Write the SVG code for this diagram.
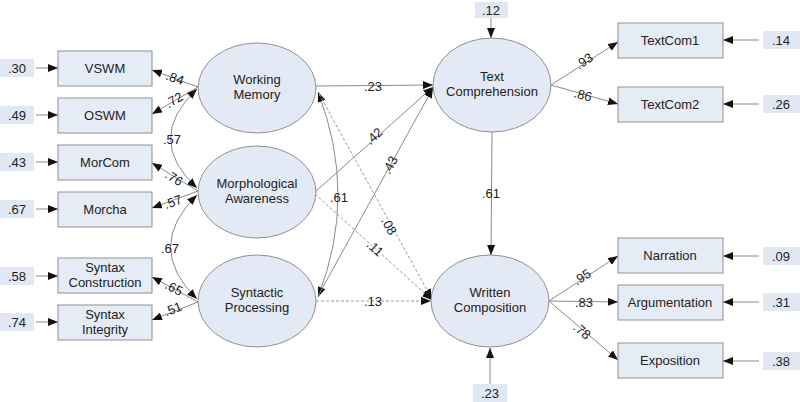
<svg xmlns="http://www.w3.org/2000/svg" width="800" height="402" viewBox="0 0 800 402">
<defs>
<marker id="arr" markerUnits="userSpaceOnUse" markerWidth="11" markerHeight="8" refX="10" refY="4" orient="auto-start-reverse"><path d="M0,0 L10,4 L0,8 z" fill="#111"/></marker>
<style>
.box{fill:#e6ecf6;stroke:#8f8f8f;stroke-width:1}
.lat{fill:#e4eaf5;stroke:#8f8f8f;stroke-width:1}
.err{fill:#e1e8f4;stroke:none}
.t{font-family:"Liberation Sans",Arial,sans-serif;font-size:13px;fill:#222;text-anchor:middle}
.c{fill:none;stroke:#8a8a8a;stroke-width:1}
.d{fill:none;stroke:#9a9a9a;stroke-width:1;stroke-dasharray:3,2}
</style>
</defs>
<rect width="800" height="402" fill="#fff"/>

<g id="connectors">
<!-- error arrows left -->
<path class="c" d="M36,68 L58,68" marker-end="url(#arr)"/>
<path class="c" d="M36,115 L58,115" marker-end="url(#arr)"/>
<path class="c" d="M36,162 L58,162" marker-end="url(#arr)"/>
<path class="c" d="M36,209 L58,209" marker-end="url(#arr)"/>
<path class="c" d="M36,276 L58,276" marker-end="url(#arr)"/>
<path class="c" d="M36,322 L58,322" marker-end="url(#arr)"/>
<!-- loadings left -->
<path class="c" d="M198,87 L152,70" marker-end="url(#arr)"/>
<path class="c" d="M198,87 L152,114" marker-end="url(#arr)"/>
<path class="c" d="M198,191 L152,163" marker-end="url(#arr)"/>
<path class="c" d="M198,191 L152,208" marker-end="url(#arr)"/>
<path class="c" d="M198,302 L152,277" marker-end="url(#arr)"/>
<path class="c" d="M198,302 L152,320" marker-end="url(#arr)"/>
<!-- covariances -->
<path class="c" d="M197,89 Q144,139 197,188" marker-start="url(#arr)" marker-end="url(#arr)"/>
<path class="c" d="M197,195 Q144,247 197,299" marker-start="url(#arr)" marker-end="url(#arr)"/>
<path class="c" d="M318,92 Q358,195 318,297" marker-start="url(#arr)" marker-end="url(#arr)"/>
<!-- structural -->
<path class="c" d="M316,86 L433,85" marker-end="url(#arr)"/>
<path class="c" d="M315,192 L433,87" marker-end="url(#arr)"/>
<path class="c" d="M318,296 L433,88" marker-end="url(#arr)"/>
<path class="d" d="M319,94 L432,299" marker-end="url(#arr)"/>
<path class="d" d="M315,194 L432,300" marker-end="url(#arr)"/>
<path class="d" d="M316,301 L431,301" marker-end="url(#arr)"/>
<path class="c" d="M492,132 L491,255" marker-end="url(#arr)"/>
<!-- latent errors -->
<path class="c" d="M491,18 L491,38" marker-end="url(#arr)"/>
<path class="c" d="M490,384 L490,348" marker-end="url(#arr)"/>
<!-- loadings right -->
<path class="c" d="M551,85 L618,42" marker-end="url(#arr)"/>
<path class="c" d="M551,85 L618,104" marker-end="url(#arr)"/>
<path class="c" d="M549,301 L618,256" marker-end="url(#arr)"/>
<path class="c" d="M549,301 L618,302" marker-end="url(#arr)"/>
<path class="c" d="M549,301 L618,360" marker-end="url(#arr)"/>
<!-- error arrows right -->
<path class="c" d="M759,40 L723,40" marker-end="url(#arr)"/>
<path class="c" d="M759,104 L723,104" marker-end="url(#arr)"/>
<path class="c" d="M759,256 L723,256" marker-end="url(#arr)"/>
<path class="c" d="M759,302 L723,302" marker-end="url(#arr)"/>
<path class="c" d="M759,361 L723,361" marker-end="url(#arr)"/>
<!-- labels -->
<g class="t">
<text transform="translate(175,78) rotate(20)" y="4.5">.84</text>
<text transform="translate(174,100) rotate(-30)" y="4.5">.72</text>
<text x="172" y="143.5">.57</text>
<text transform="translate(174,178) rotate(32)" y="4.5">.76</text>
<text transform="translate(173,202) rotate(-20)" y="4.5">.57</text>
<text x="170" y="252.5">.67</text>
<text transform="translate(174,288) rotate(28)" y="4.5">.65</text>
<text transform="translate(173,309) rotate(-22)" y="4.5">.51</text>
<text x="373" y="90.5">.23</text>
<text transform="translate(374,136) rotate(-42)" y="4.5">.42</text>
<text transform="translate(390,165) rotate(-61)" y="4.5">.43</text>
<text x="339" y="201.5">.61</text>
<text transform="translate(389,226) rotate(61)" y="4.5">.08</text>
<text transform="translate(375,248) rotate(43)" y="4.5">.11</text>
<text x="373" y="305.5">.13</text>
<text x="491" y="197.5">.61</text>
<text transform="translate(584,61) rotate(-33)" y="4.5">.93</text>
<text transform="translate(583,95) rotate(15)" y="4.5">.86</text>
<text transform="translate(582,277) rotate(-33)" y="4.5">.95</text>
<text x="584" y="306.5">.83</text>
<text transform="translate(582,331) rotate(40)" y="4.5">.78</text>
</g>
</g>

<g id="e_vswm"><rect class="err" x="0" y="59" width="34" height="18"/><text class="t" x="17" y="73">.30</text></g>
<g id="e_oswm"><rect class="err" x="0" y="106" width="34" height="18"/><text class="t" x="17" y="120">.49</text></g>
<g id="e_morcom"><rect class="err" x="0" y="153" width="34" height="18"/><text class="t" x="17" y="167">.43</text></g>
<g id="e_morcha"><rect class="err" x="0" y="200" width="34" height="18"/><text class="t" x="17" y="214">.67</text></g>
<g id="e_syncon"><rect class="err" x="0" y="267" width="34" height="18"/><text class="t" x="17" y="281">.58</text></g>
<g id="e_synint"><rect class="err" x="0" y="313" width="34" height="18"/><text class="t" x="17" y="327">.74</text></g>

<g id="vswm"><rect class="box" x="58" y="51" width="94" height="35"/><text class="t" x="105" y="73">VSWM</text></g>
<g id="oswm"><rect class="box" x="58" y="98" width="94" height="35"/><text class="t" x="105" y="120">OSWM</text></g>
<g id="morcom"><rect class="box" x="58" y="145" width="94" height="35"/><text class="t" x="105" y="167">MorCom</text></g>
<g id="morcha"><rect class="box" x="58" y="192" width="94" height="35"/><text class="t" x="105" y="214">Morcha</text></g>
<g id="syncon"><rect class="box" x="58" y="258" width="94" height="35"/><text class="t" x="105" y="272">Syntax</text><text class="t" x="105" y="287">Construction</text></g>
<g id="synint"><rect class="box" x="58" y="305" width="94" height="35"/><text class="t" x="105" y="319">Syntax</text><text class="t" x="105" y="334">Integrity</text></g>

<g id="wm"><ellipse class="lat" cx="257" cy="88" rx="59" ry="45"/><text class="t" x="257" y="84">Working</text><text class="t" x="257" y="99">Memory</text></g>
<g id="ma"><ellipse class="lat" cx="257" cy="192" rx="59" ry="46"/><text class="t" x="257" y="188">Morphological</text><text class="t" x="257" y="203">Awareness</text></g>
<g id="sp"><ellipse class="lat" cx="257" cy="301" rx="59" ry="46"/><text class="t" x="257" y="297">Syntactic</text><text class="t" x="257" y="312">Processing</text></g>

<g id="tc"><ellipse class="lat" cx="492" cy="85" rx="59" ry="47"/><text class="t" x="492" y="81">Text</text><text class="t" x="492" y="96">Comprehension</text></g>
<g id="wc"><ellipse class="lat" cx="490" cy="301" rx="59" ry="46"/><text class="t" x="490" y="297">Written</text><text class="t" x="490" y="312">Composition</text></g>
<g id="e_tc"><rect class="err" x="475" y="2" width="33" height="16"/><text class="t" x="491" y="15">.12</text></g>
<g id="e_wc"><rect class="err" x="473" y="384" width="34" height="18"/><text class="t" x="490" y="398">.23</text></g>

<g id="textcom1"><rect class="box" x="618" y="23" width="105" height="35"/><text class="t" x="670" y="45">TextCom1</text></g>
<g id="textcom2"><rect class="box" x="618" y="87" width="105" height="35"/><text class="t" x="670" y="109">TextCom2</text></g>
<g id="narration"><rect class="box" x="618" y="238" width="105" height="35"/><text class="t" x="670" y="260">Narration</text></g>
<g id="argumentation"><rect class="box" x="618" y="285" width="105" height="35"/><text class="t" x="670" y="307">Argumentation</text></g>
<g id="exposition"><rect class="box" x="618" y="343" width="105" height="35"/><text class="t" x="670" y="365">Exposition</text></g>

<g id="e_tc1"><rect class="err" x="763" y="31" width="37" height="18"/><text class="t" x="781" y="45">.14</text></g>
<g id="e_tc2"><rect class="err" x="763" y="95" width="37" height="18"/><text class="t" x="781" y="109">.26</text></g>
<g id="e_nar"><rect class="err" x="763" y="247" width="37" height="18"/><text class="t" x="781" y="261">.09</text></g>
<g id="e_arg"><rect class="err" x="763" y="293" width="37" height="18"/><text class="t" x="781" y="307">.31</text></g>
<g id="e_exp"><rect class="err" x="763" y="352" width="37" height="18"/><text class="t" x="781" y="366">.38</text></g>
</svg>
